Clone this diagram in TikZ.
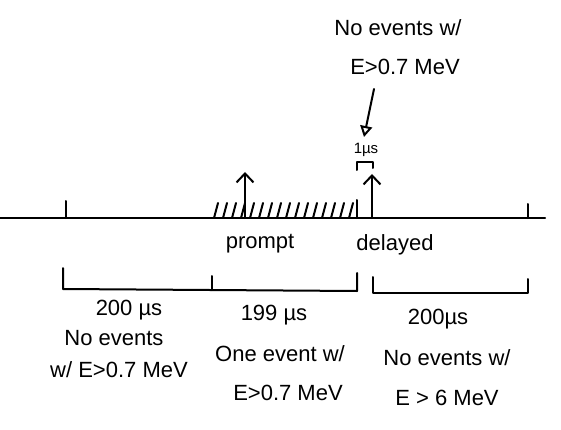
\documentclass[tikz,border=0pt]{standalone}
\usepackage{fontspec}
\setmainfont{Liberation Sans}
\usetikzlibrary{arrows.meta}
\begin{document}
\begin{tikzpicture}[x=1pt,y=-1pt,
  ink/.style={line width=2pt,black,line cap=round,line join=round},
  lbl/.style={font=\fontsize{22}{26}\selectfont,inner sep=1pt,align=center},
  small/.style={font=\fontsize{15}{17}\selectfont,inner sep=1pt},
  barb/.style={-{Straight Barb[length=9pt,width=17pt,line width=2pt]}},
  tri/.style={-{Triangle[open,length=11pt,width=12pt,line width=2pt]}}]
\useasboundingbox (0,0) rectangle (561,430);
% timeline
\coordinate (L) at (0,218);
\coordinate (R) at (545,218);
\draw[ink] (L) -- (R);
\draw[ink] (66,218) -- (66,201);
\draw[ink] (528,218) -- (528,204);
% hatching
\foreach \x in {214,223,...,350} \draw[ink] (\x,218) -- (\x+4,203);
\draw[ink] (357,218) -- (357,200);
% prompt arrow
\coordinate (pb) at (245,218);
\coordinate (pt) at (245,172);
\draw[ink,barb] (pb) -- (pt);
% delayed arrow
\coordinate (db) at (372,218);
\coordinate (dt) at (372,174);
\draw[ink,barb] (db) -- (dt);
% 1 us bracket
\draw[ink] (357,170) -- (357,162) -- (373,162) -- (373,168);
\node[small] (onemu) at (366,150) {1µs};
% top text and arrow
\node[lbl] (top1) at (398,28) {No events w/};
\node[lbl] (top2) at (405,67) {E>0.7 MeV};
\coordinate (ta) at (374,89);
\coordinate (tb) at (364,137);
\draw[ink,tri] (ta) -- (tb);
% labels under line
\node[lbl] (prompt) at (260,244) {prompt};
\node[lbl] (delayed) at (395,245) {delayed};
% brackets
\draw[ink] (63,268) -- (63,289) -- (357,291) -- (357,273);
\draw[ink] (212,276) -- (212,290);
\draw[ink] (373,277) -- (373,293) -- (528,293) -- (528,279);
% bracket labels
\node[lbl] (d1) at (129,310) {200 µs};
\node[lbl] (d2) at (274,315) {199 µs};
\node[lbl] (d3) at (438,319) {200µs};
\node[lbl] (t1a) at (114,338) {No events};
\node[lbl] (t1b) at (119,370) {w/ E>0.7 MeV};
\node[lbl] (t2a) at (280,354) {One event w/};
\node[lbl] (t2b) at (288,393) {E>0.7 MeV};
\node[lbl] (t3a) at (447,358) {No events w/};
\node[lbl] (t3b) at (447,398) {E > 6 MeV};
\end{tikzpicture}
\end{document}
